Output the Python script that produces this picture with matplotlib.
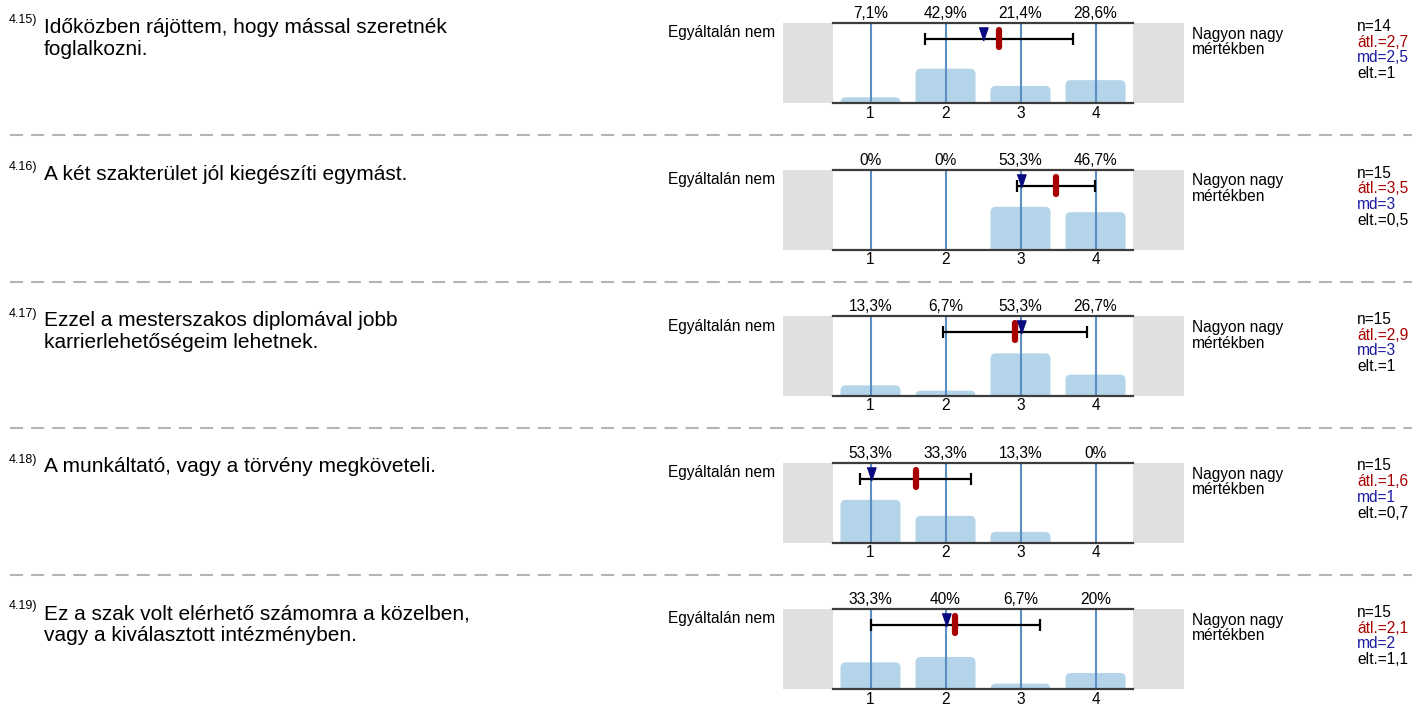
import matplotlib

matplotlib.use("Agg")
import matplotlib.pyplot as plt
from matplotlib.lines import Line2D
from matplotlib.patches import FancyBboxPatch, Rectangle

plt.rcParams["font.family"] = ["Liberation Sans", "DejaVu Sans"]
plt.rcParams["lines.scale_dashes"] = False

W, H = 1412, 704

# --- data --------------------------------------------------------------------
codes = ["4.15)", "4.16)", "4.17)", "4.18)", "4.19)"]
questions = [
    ["Időközben rájöttem, hogy mással szeretnék", "foglalkozni."],
    ["A két szakterület jól kiegészíti egymást."],
    ["Ezzel a mesterszakos diplomával jobb", "karrierlehetőségeim lehetnek."],
    ["A munkáltató, vagy a törvény megköveteli."],
    ["Ez a szak volt elérhető számomra a közelben,", "vagy a kiválasztott intézményben."],
]
scale = [1, 2, 3, 4]
pcts = [
    [7.1, 42.9, 21.4, 28.6],
    [0, 0, 53.3, 46.7],
    [13.3, 6.7, 53.3, 26.7],
    [53.3, 33.3, 13.3, 0],
    [33.3, 40, 6.7, 20],
]
ns = [14, 15, 15, 15, 15]
means = [2.71, 3.47, 2.93, 1.60, 2.13]
medians = [2.5, 3, 3, 1, 2]
sds = [0.99, 0.52, 0.96, 0.74, 1.13]
left_label = "Egyáltalán nem"
right_label = ["Nagyon nagy", "mértékben"]

BAR, TICKLINE, AXLINE, GREYBOX = "#b4d4ea", "#5b8ec2", "#3c3c3c", "#e0e0e0"
MEAN_C, MED_C, DASH_C = "#a80000", "#0a0a80", "#b4b4b4"


def fx(px):
    return px / W


def fy(py):
    return 1 - py / H


def num(v):
    return f"{v:g}".replace(".", ",")


fig = plt.figure(figsize=(W / 100, H / 100), dpi=100)

X0, X1 = 783, 1184          # panel incl. grey end boxes (px)
P0, P1 = 833, 1133          # scale area (px) -> 0.5 .. 4.5
upx = (P1 - P0) / 4.0       # px per scale unit
PH = 80                     # panel height (px)

for i in range(len(pcts)):
    T = 23 + i * 146.5
    ax = fig.add_axes([fx(X0), fy(T + PH), fx(X1 - X0), PH / H])
    ax.set_xlim(0.5 - (P0 - X0) / upx, 4.5 + (X1 - P1) / upx)
    ax.set_ylim(0, 1)
    ax.axis("off")

    ax.add_patch(Rectangle((ax.get_xlim()[0], 0), 0.5 - ax.get_xlim()[0], 1,
                           color=GREYBOX, lw=0, zorder=0))
    ax.add_patch(Rectangle((4.5, 0), ax.get_xlim()[1] - 4.5, 1,
                           color=GREYBOX, lw=0, zorder=0))

    for x, p in zip(scale, pcts[i]):
        if p > 0:
            ax.add_patch(FancyBboxPatch((x - 0.4, -0.1), 0.8, p / 100 + 0.1,
                                        boxstyle="round,pad=0,rounding_size=0.07",
                                        mutation_aspect=0.95, fc=BAR, ec="none",
                                        zorder=1, clip_on=True))
        ax.plot([x, x], [0, 1], color=TICKLINE, lw=1.5, zorder=2)
        ax.text(x, 1.115, num(p) + "%", ha="center", va="center", fontsize=11.2)
        ax.text(x, -0.125, str(x), ha="center", va="center", fontsize=11.2)

    ax.plot([0.5, 4.5], [1, 1], color=AXLINE, lw=1.6, zorder=3, clip_on=False)
    ax.plot([0.5, 4.5], [0, 0], color=AXLINE, lw=1.6, zorder=3, clip_on=False)

    ax.errorbar(means[i], 0.8, xerr=sds[i], fmt="none", ecolor="black",
                elinewidth=1.6, capsize=4, capthick=1.6, zorder=4)
    ax.plot([means[i], means[i]], [0.70, 0.91], color=MEAN_C, lw=4.5,
            solid_capstyle="round", zorder=5)
    ax.plot(medians[i], 0.86, marker=[(-0.34, 0.5), (0.34, 0.5), (0, -0.5)],
            ms=9.5, color=MED_C, mec=MED_C, ls="none", zorder=6)

    # texts around the panel
    fig.text(fx(775), fy(T + 10), left_label, ha="right", va="center", fontsize=11.2)
    for k, line in enumerate(right_label):
        fig.text(fx(1192), fy(T + 16 + k * 15.5), line, ha="left",
                 va="baseline", fontsize=11.2)
    stats = [(f"n={ns[i]}", "black"),
             (f"átl.={num(round(means[i], 1))}", MEAN_C),
             (f"md={num(medians[i])}", "#1c1ca0"),
             (f"elt.={num(round(sds[i], 1))}", "black")]
    for k, (s, c) in enumerate(stats):
        fig.text(fx(1357), fy(T + 8 + k * 15.7), s, ha="left", va="baseline",
                 fontsize=11.2, color=c)

    fig.text(fx(9), fy(T + 0.5), codes[i], ha="left", va="baseline", fontsize=9)
    for k, line in enumerate(questions[i]):
        fig.text(fx(44), fy(T + 10 + k * 21.7), line, ha="left",
                 va="baseline", fontsize=15)

    if i < len(pcts) - 1:
        fig.add_artist(Line2D([fx(10), fx(W)], [fy(T + 112)] * 2, color=DASH_C,
                              lw=1.5, dashes=(9.4, 5.8)))

fig.savefig("out.png", dpi=100)
